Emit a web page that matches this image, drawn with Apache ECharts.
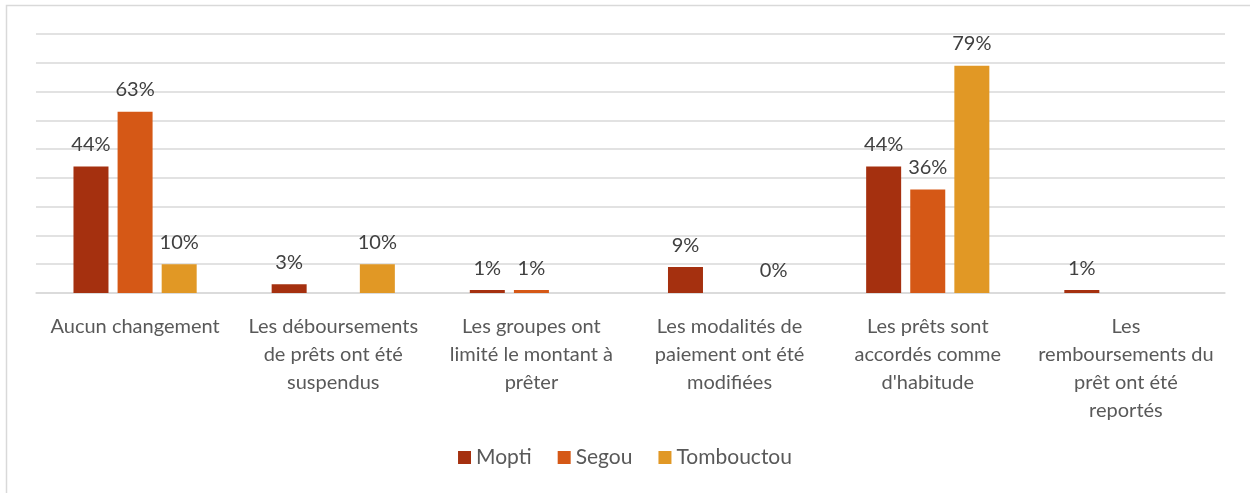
<!DOCTYPE html>
<html>
<head>
<meta charset="utf-8">
<script src="https://cdn.jsdelivr.net/npm/echarts@6/dist/echarts.min.js"></script>
<style>
  html, body { margin: 0; padding: 0; background: #fff; }
  #chart { width: 1250px; height: 493px; }
</style>
</head>
<body>
<div id="chart"></div>
<script>
// categories (line breaks as in the original)
var categories = [
  'Aucun changement',
  'Les déboursements\nde prêts ont été\nsuspendus',
  'Les groupes ont\nlimité le montant à\nprêter',
  'Les modalités de\npaiement ont été\nmodifiées',
  'Les prêts sont\naccordés comme\nd\'habitude',
  'Les\nremboursements du\nprêt ont été\nreportés'
];
var mopti = [44, 3, 1, 9, 44, 1];
var segou = [63, null, 1, null, 36, null];
var tombouctou = [10, 10, null, 0, 79, null];

var seriesNames = ['Mopti', 'Segou', 'Tombouctou'];
var colors = ['#A5300F', '#D55816', '#E19825'];

var chart = echarts.init(document.getElementById('chart'));

function makeSeries (name, data, color) {
  return {
    name: name,
    type: 'bar',
    data: data,
    barWidth: 35,
    barGap: '26%',
    itemStyle: { color: color },
    label: {
      show: true,
      position: 'top',
      distance: 12,
      formatter: '{c}%',
      color: '#404040',
      fontSize: 20,
      fontFamily: 'Lato'
    }
  };
}

chart.setOption({
  animation: false,
  textStyle: { fontFamily: 'Lato' },
  graphic: [
    {
      type: 'polyline',
      shape: { points: [[6.5, 493], [6.5, 5.5], [1250, 5.5]] },
      style: { stroke: '#d9d9d9', lineWidth: 1.5, fill: null }
    }
  ],
  grid: { left: 36, right: 25, top: 34, bottom: 200 },
  legend: {
    data: seriesNames,
    bottom: 20,
    left: 'center',
    itemWidth: 13,
    itemHeight: 13,
    itemGap: 26,
    icon: 'rect',
    textStyle: { color: '#595959', fontSize: 21, fontFamily: 'Lato' }
  },
  xAxis: {
    type: 'category',
    data: categories,
    axisTick: { show: false },
    axisLine: { lineStyle: { color: '#d9d9d9', width: 1.5 } },
    axisLabel: {
      interval: 0,
      margin: 20,
      color: '#595959',
      fontSize: 20,
      lineHeight: 28,
      fontFamily: 'Lato'
    }
  },
  yAxis: {
    type: 'value',
    min: 0,
    max: 90,
    interval: 10,
    axisLabel: { show: false },
    axisLine: { show: false },
    axisTick: { show: false },
    splitLine: { lineStyle: { color: '#d9d9d9', width: 1.5 } }
  },
  series: [
    makeSeries(seriesNames[0], mopti, colors[0]),
    makeSeries(seriesNames[1], segou, colors[1]),
    makeSeries(seriesNames[2], tombouctou, colors[2])
  ]
});
</script>
</body>
</html>
